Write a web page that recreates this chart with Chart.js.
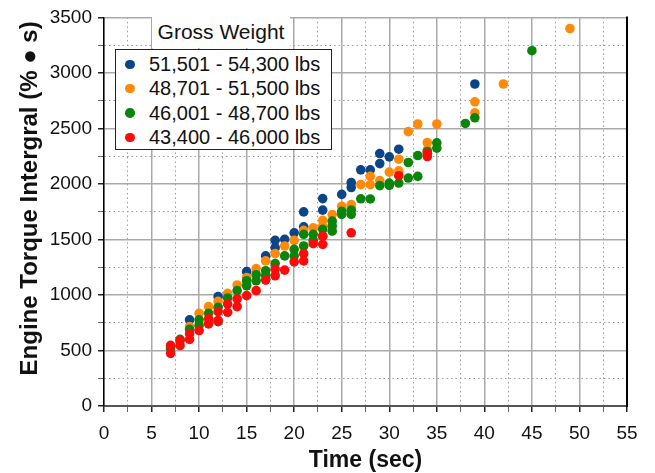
<!DOCTYPE html>
<html>
<head>
<meta charset="utf-8">
<script src="https://cdn.jsdelivr.net/npm/chart.js@4.4.1/dist/chart.umd.min.js"></script>
<style>
  html, body { margin: 0; padding: 0; background: #fff; }
  #wrap { position: relative; width: 655px; height: 473px; }
  canvas { position: absolute; left: 0; top: 0; }
  .lg-title { position: absolute; left: 152px; top: 16px; width: 138px; height: 32px; background: #fff;
    font: 21px "Liberation Sans", Arial, sans-serif; color: #111; text-align: center; line-height: 32px; }
  .lg-box { position: absolute; left: 115px; top: 49px; width: 217px; height: 101px; background: #fff;
    border: 1.5px solid #222; box-sizing: border-box; font: 20px "Liberation Sans", Arial, sans-serif; color: #111; }
  .lg-row { position: absolute; left: 0; height: 24px; line-height: 24px; white-space: nowrap; }
  .lg-dot { position: absolute; left: 9px; top: 7.5px; width: 9.5px; height: 9.5px; border-radius: 50%; }
  .lg-txt { position: absolute; left: 33px; top: 0; }
</style>
</head>
<body>
<div id="wrap">
  <canvas id="c" width="655" height="473"></canvas>
  <div class="lg-title" id="lgTitle"></div>
  <div class="lg-box" id="lgBox"></div>
</div>
<script>
// ---- data ----
const legendTitle = "Gross Weight";
const seriesNames = ["51,501 - 54,300 lbs", "48,701 - 51,500 lbs", "46,001 - 48,700 lbs", "43,400 - 46,000 lbs"];

const blueTime   = [9, 12, 15, 17, 18, 18, 19, 20, 21, 21, 23, 23, 25, 26, 26, 27, 28, 29, 29, 30, 31, 39];
const blueTorque = [776, 985, 1210, 1352, 1492, 1426, 1501, 1560, 1748, 1614, 1868, 1764, 1906, 2012, 1968, 2127, 2127, 2274, 2183, 2244, 2313, 2900];

const orangeTime   = [9, 10, 11, 12, 13, 14, 15, 16, 17, 18, 19, 20, 21, 22, 23, 23, 24, 25, 26, 26, 27, 28, 28, 29, 30, 31, 31, 32, 33, 34, 34, 35, 39, 39, 42, 49];
const orangeTorque = [716, 835, 895, 943, 1015, 1090, 1158, 1238, 1307, 1372, 1441, 1492, 1582, 1605, 1672, 1620, 1724, 1799, 1814, 1784, 1994, 2068, 1994, 2030, 2107, 2223, 2118, 2471, 2540, 2372, 2307, 2540, 2740, 2640, 2900, 3400];

const greenTime   = [7, 8, 9, 10, 10, 11, 12, 12, 13, 14, 15, 15, 16, 16, 17, 17, 18, 19, 20, 20, 21, 21, 22, 22, 23, 23, 24, 24, 24, 25, 25, 26, 26, 27, 28, 29, 30, 30, 31, 32, 32, 33, 33, 34, 35, 35, 38, 39, 45];
const greenTorque = [516, 600, 690, 776, 725, 835, 889, 760, 973, 1039, 1128, 1083, 1182, 1128, 1218, 1175, 1283, 1352, 1411, 1352, 1546, 1441, 1546, 1492, 1591, 1530, 1665, 1620, 1575, 1753, 1726, 1764, 1726, 1866, 1865, 1985, 2008, 1987, 2008, 2193, 2053, 2256, 2068, 2292, 2370, 2322, 2545, 2596, 3200];

const redTime   = [7, 7, 8, 8, 9, 9, 10, 11, 11, 12, 12, 13, 13, 14, 14, 15, 16, 17, 18, 18, 19, 20, 21, 21, 22, 23, 23, 26, 31, 34, 34];
const redTorque = [546, 474, 590, 545, 650, 600, 680, 785, 740, 850, 770, 919, 844, 964, 895, 994, 1039, 1134, 1233, 1173, 1224, 1298, 1372, 1307, 1462, 1530, 1456, 1560, 2074, 2277, 2247];

const xTickValues = [0, 5, 10, 15, 20, 25, 30, 35, 40, 45, 50, 55];
const yTickValues = [0, 500, 1000, 1500, 2000, 2500, 3000, 3500];

const colors = ["#0b4587", "#ff8a0a", "#0a850a", "#ff0a0a"];

function pts(t, v) { return t.map((x, i) => ({ x: x, y: v[i] })); }

// ---- legend (HTML text) ----
document.getElementById('lgTitle').textContent = legendTitle;
const box = document.getElementById('lgBox');
seriesNames.forEach((n, i) => {
  const row = document.createElement('div');
  row.className = 'lg-row';
  row.style.top = (2 + i * 24.4) + 'px';
  const d = document.createElement('div'); d.className = 'lg-dot'; d.style.background = colors[i];
  const s = document.createElement('div'); s.className = 'lg-txt'; s.textContent = n;
  row.appendChild(d); row.appendChild(s); box.appendChild(row);
});

const FONT = "'Liberation Sans', Arial, sans-serif";

const framePlugin = {
  id: 'frame',
  afterDraw(chart) {
    const { ctx, chartArea: a } = chart;
    ctx.save();
    ctx.strokeStyle = '#000';
    ctx.lineWidth = 2;
    ctx.beginPath();
    ctx.moveTo(a.right, a.top - 1);
    ctx.lineTo(a.right, a.bottom + 1);
    ctx.stroke();
    ctx.restore();
  }
};

function isMajor(ctx, list) {
  return ctx.tick && list.includes(ctx.tick.value);
}

new Chart(document.getElementById('c'), {
  type: 'scatter',
  data: {
    datasets: [
      { label: seriesNames[0], data: pts(blueTime, blueTorque), backgroundColor: colors[0], order: 4 },
      { label: seriesNames[1], data: pts(orangeTime, orangeTorque), backgroundColor: colors[1], order: 3 },
      { label: seriesNames[2], data: pts(greenTime, greenTorque), backgroundColor: colors[2], order: 2 },
      { label: seriesNames[3], data: pts(redTime, redTorque), backgroundColor: colors[3], order: 1 }
    ].map(d => Object.assign(d, { pointRadius: 4.8, pointHoverRadius: 4.8, borderWidth: 0, pointBorderWidth: 0 }))
  },
  options: {
    responsive: false,
    animation: false,
    devicePixelRatio: 1,
    layout: { padding: { top: 15, right: 28, left: 0, bottom: 0 } },
    plugins: { legend: { display: false }, tooltip: { enabled: false } },
    scales: {
      x: {
        type: 'linear', min: 0, max: 55,
        afterFit: s => { s.height = 67; },
        afterBuildTicks: s => { s.ticks = []; for (let v = 0; v <= 55; v += 2.5) s.ticks.push({ value: v }); },
        ticks: {
          autoSkip: false, maxRotation: 0, padding: 10, color: '#111',
          font: { family: FONT, size: 19 },
          callback: v => xTickValues.includes(v) ? String(v) : ''
        },
        grid: {
          color: c => isMajor(c, xTickValues) ? '#a9a9a9' : '#9c9c9c',
          lineWidth: c => isMajor(c, xTickValues) ? 1.5 : 1,
          tickLength: 6,
          tickColor: c => isMajor(c, xTickValues) ? '#222' : '#666'
        },
        border: { color: '#555', width: 2, dash: c => (c.tick && !xTickValues.includes(c.tick.value)) ? [1.5, 3] : [] },
        title: {
          display: true, text: 'Time (sec)', color: '#111',
          font: { family: FONT, size: 23, weight: 'bold', lineHeight: 1 },
          padding: { top: 0, bottom: 1 }
        }
      },
      y: {
        type: 'linear', min: 0, max: 3500,
        afterFit: s => { s.width = 104; },
        afterBuildTicks: s => { s.ticks = []; for (let v = 0; v <= 3500; v += 250) s.ticks.push({ value: v }); },
        ticks: {
          autoSkip: false, padding: 6, color: '#111',
          font: { family: FONT, size: 19 },
          callback: v => yTickValues.includes(v) ? String(v) : ''
        },
        grid: {
          color: c => isMajor(c, yTickValues) ? '#a9a9a9' : '#9c9c9c',
          lineWidth: c => isMajor(c, yTickValues) ? 1.5 : 1,
          tickLength: 6,
          tickColor: c => isMajor(c, yTickValues) ? '#222' : '#666'
        },
        border: { color: '#000', width: 1.5, dash: c => (c.tick && !yTickValues.includes(c.tick.value)) ? [1.5, 3] : [] },
        title: {
          display: true, text: '    Engine Torque Intergral (% \u25CF s)', color: '#111',
          font: { family: FONT, size: 24, weight: 'bold', lineHeight: 1 },
          padding: { top: 18, bottom: 0 }
        }
      }
    }
  },
  plugins: [framePlugin]
});
</script>
</body>
</html>
